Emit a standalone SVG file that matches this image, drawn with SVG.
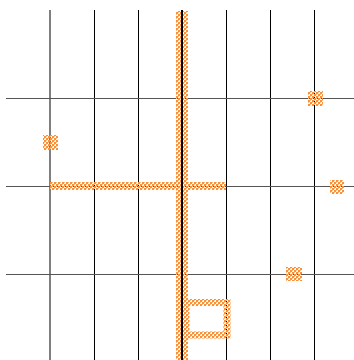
<svg xmlns="http://www.w3.org/2000/svg" width="354" height="360" viewBox="0 0 354 360">
  <defs>
    <pattern id="hatch" width="4" height="4" patternUnits="userSpaceOnUse">
      <rect x="0" y="0" width="2" height="2" fill="#f7913d"/>
      <rect x="2" y="2" width="2" height="2" fill="#f7913d"/>
      <rect x="2" y="0" width="1" height="1" fill="#fbc08a"/>
      <rect x="0" y="2" width="1" height="1" fill="#fbc08a"/>
    </pattern>
    <style>
      .grid { stroke: #000; stroke-width: 1; fill: none; }
      .gridh { stroke: #555; stroke-width: 1.2; fill: none; }
      .h { fill: url(#hatch); }
      .ho { fill: none; stroke: url(#hatch); stroke-width: 7; }
    </style>
  </defs>
  <rect width="354" height="360" fill="#fff"/>
  <g id="grid">
    <line class="grid" x1="50" y1="10" x2="50" y2="360"/>
    <line class="grid" x1="94.5" y1="10" x2="94.5" y2="360"/>
    <line class="grid" x1="138.5" y1="10" x2="138.5" y2="360"/>
    <line class="grid" x1="226.5" y1="10" x2="226.5" y2="360"/>
    <line class="grid" x1="270.5" y1="10" x2="270.5" y2="360"/>
    <line class="grid" x1="314.5" y1="10" x2="314.5" y2="360"/>
    <line class="gridh" x1="6" y1="98.5" x2="354" y2="98.5"/>
    <line class="gridh" x1="6" y1="186.5" x2="354" y2="186.5"/>
    <line class="gridh" x1="6" y1="274.5" x2="354" y2="274.5"/>
  </g>
  <g id="shapes">
    <rect class="h" x="176" y="11" width="12" height="349"/>
    <rect class="h" x="50" y="182" width="176" height="8"/>
    <rect class="h" x="43" y="135" width="15" height="15"/>
    <rect class="h" x="308" y="91" width="15" height="15"/>
    <rect class="h" x="330" y="180" width="14" height="14"/>
    <rect class="h" x="286" y="267" width="16" height="14"/>
    <rect class="ho" x="186" y="302.5" width="41" height="32.5"/>
  </g>
  <line x1="182" y1="10" x2="182" y2="360" stroke="#000" stroke-width="2"/>
</svg>
